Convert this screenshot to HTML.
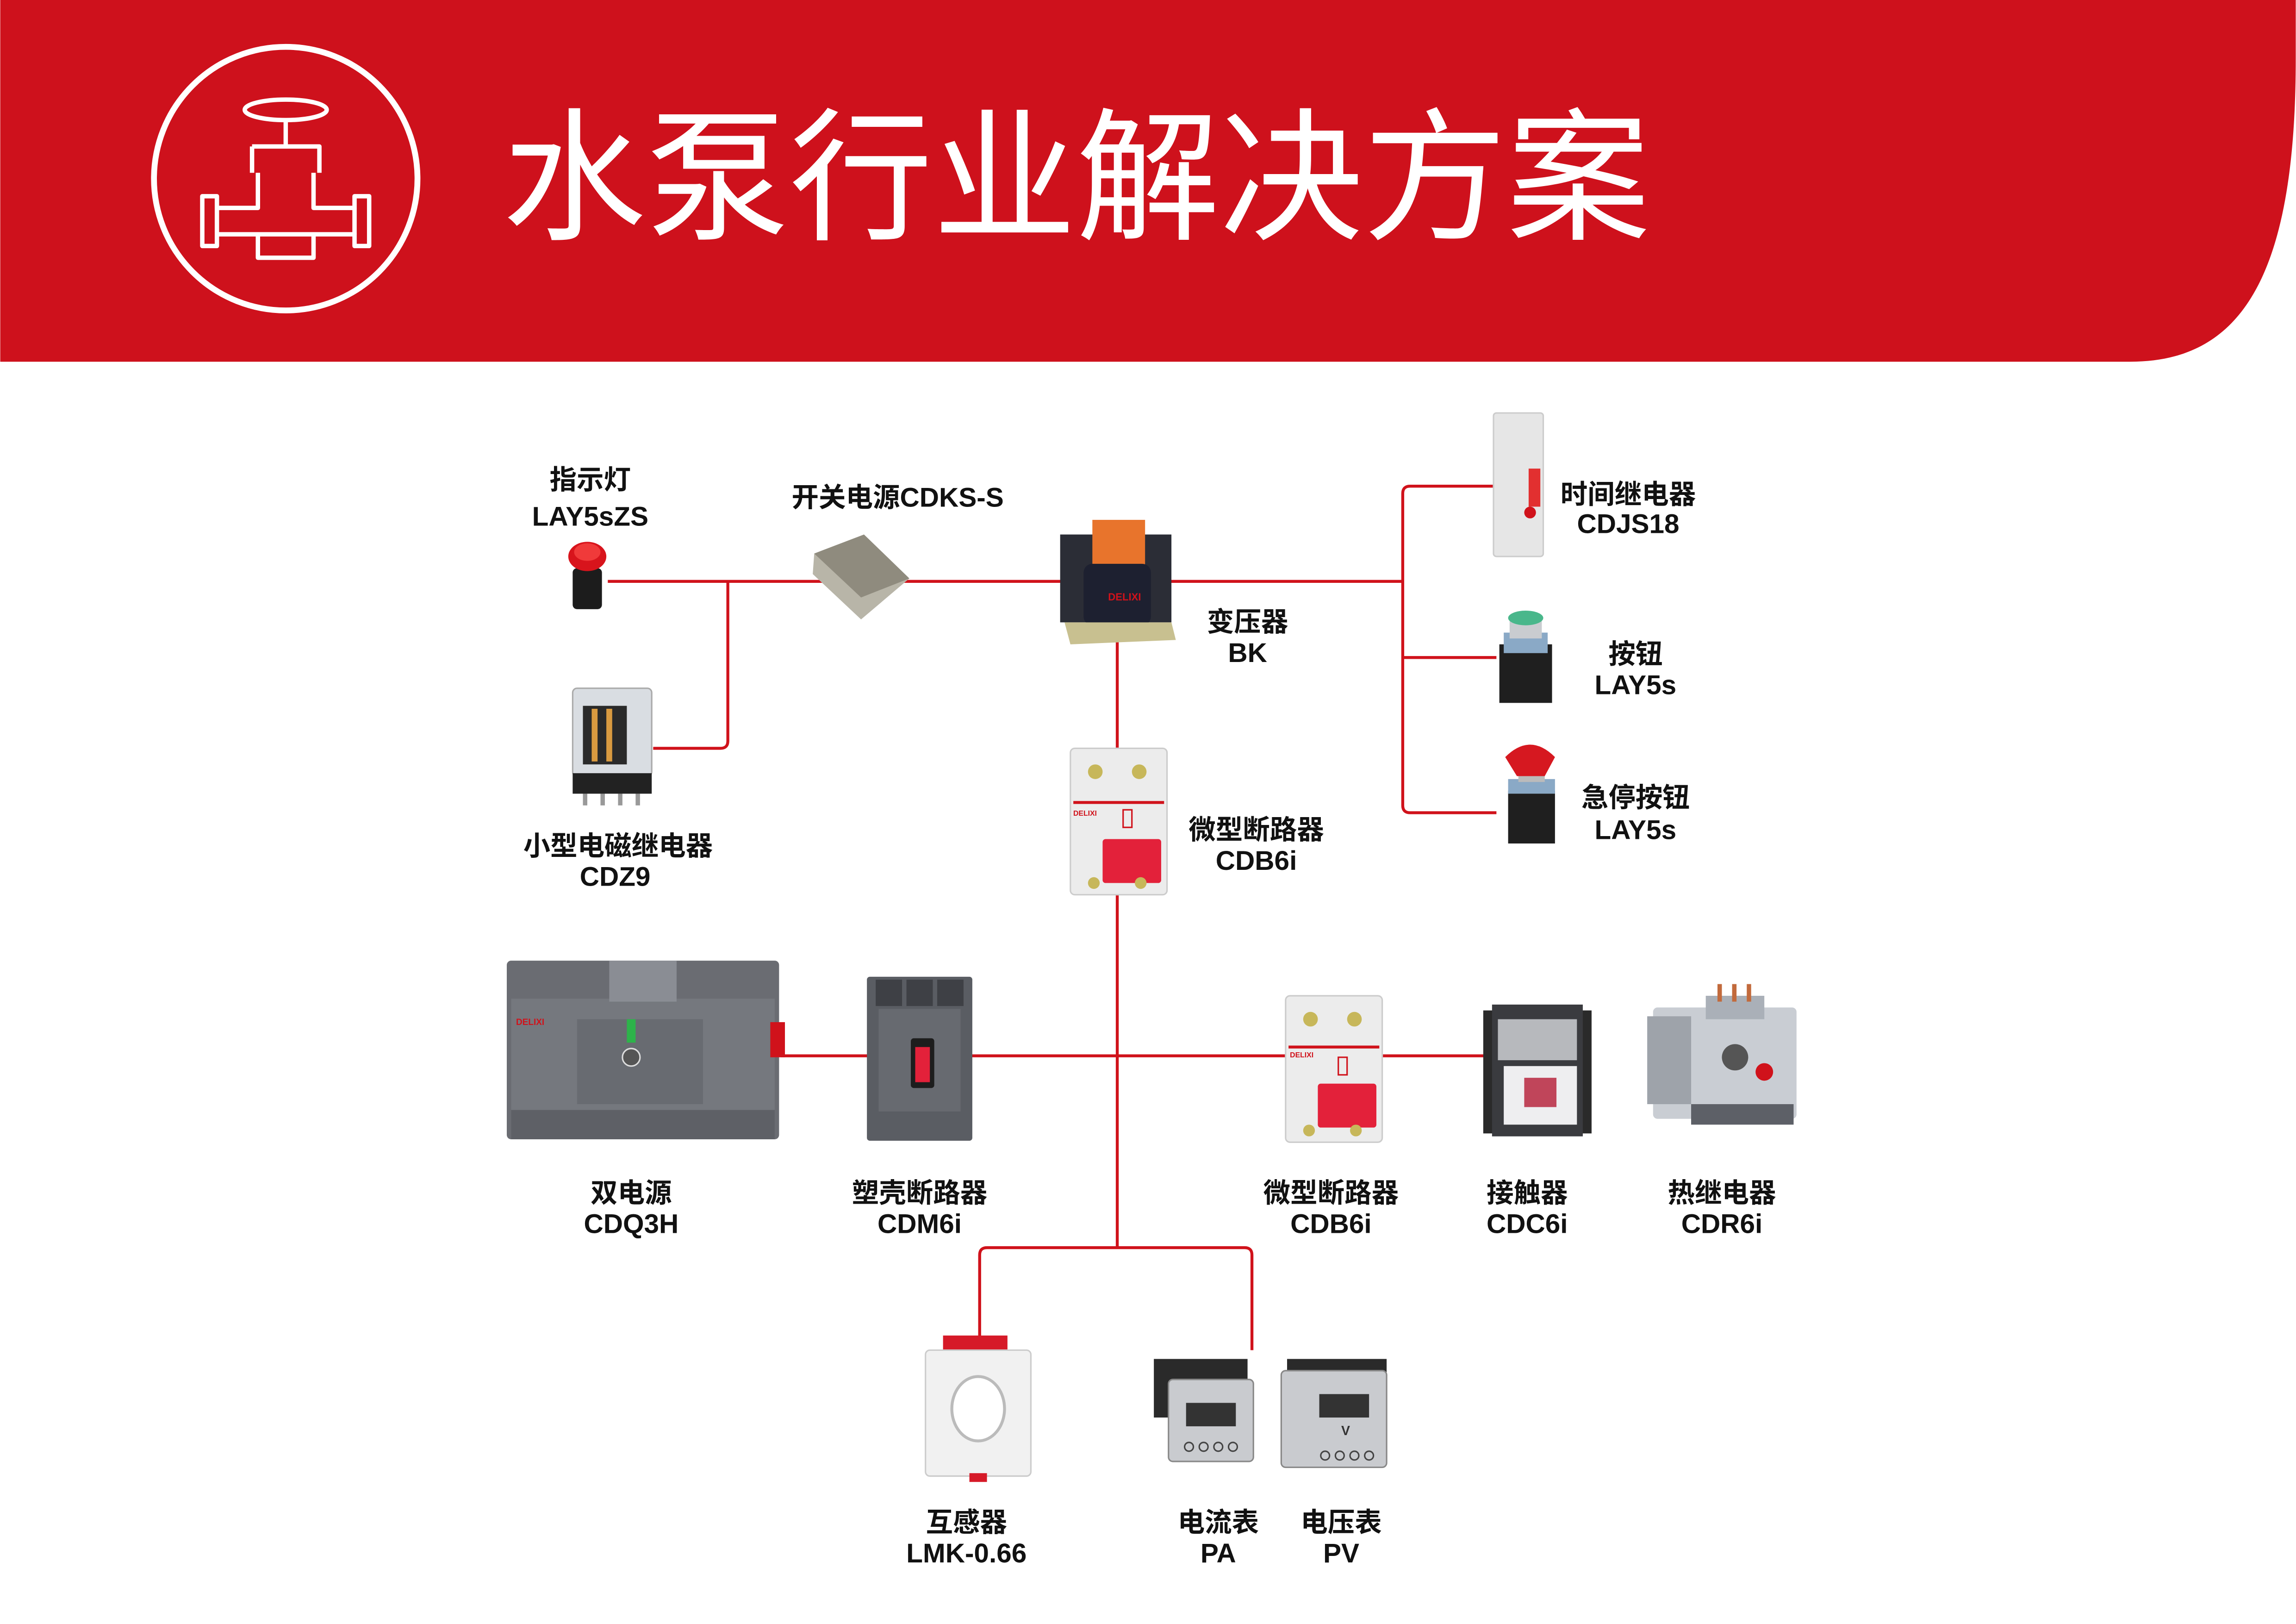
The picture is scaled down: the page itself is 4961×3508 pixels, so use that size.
<!DOCTYPE html>
<html><head><meta charset="utf-8"><style>
html,body{margin:0;padding:0;background:#fff;}
svg{display:block}
text{font-family:"Liberation Sans","Noto Sans CJK SC",sans-serif;font-weight:bold;fill:#111;text-anchor:middle;font-size:18.5px}
</style></head><body>
<svg width="4961" height="3508" viewBox="0 0 1568 1109" xmlns="http://www.w3.org/2000/svg">
<rect width="1568" height="1109" fill="#fff"/>
<!-- header -->
<path d="M0 0 H1568 V40 C1568 190 1530 247 1455 247 H0 Z" fill="#CE111C"/>
<circle cx="195" cy="122" r="90" fill="none" stroke="#fff" stroke-width="4"/>
<g fill="none" stroke="#fff" stroke-width="3" stroke-linejoin="round">
<ellipse cx="195" cy="75" rx="28" ry="7"/>
<line x1="195" y1="82" x2="195" y2="100"/>
<path d="M172 100 H218 V118 M172 100 V118"/>
<path d="M176 118 V142 H148 V134 H138 V168 H148 V160 H176 V176 H214 V160 H242 V168 H252 V134 H242 V142 H214 V118"/>
<path d="M148 142 V160 M242 142 V160 M176 160 H214"/>
</g>
<text x="735" y="156" style="font-size:98px;font-weight:normal;fill:#fff;font-family:'Noto Sans CJK SC',sans-serif">水泵行业解决方案</text>

<!-- connectors -->
<g fill="none" stroke="#D0121B" stroke-width="2">
<line x1="415" y1="397" x2="958" y2="397"/>
<path d="M497 397 V506 Q497 511 492 511 H446"/>
<path d="M1020 332 H963 Q958 332 958 337 V550 Q958 555 963 555 H1022"/>
<line x1="958" y1="449" x2="1022" y2="449"/>
<line x1="763" y1="397" x2="763" y2="852"/>
<line x1="533" y1="721" x2="1018" y2="721"/>
<path d="M669 915 V857 Q669 852 674 852 H850 Q855 852 855 857 V922"/>
</g>

<!-- indicator lamp -->
<rect x="391" y="388" width="20" height="28" rx="3" fill="#1c1c1c"/>
<ellipse cx="401" cy="380" rx="13" ry="10" fill="#d8141c"/>
<ellipse cx="401" cy="377" rx="9" ry="6" fill="#f03a3a"/>
<!-- power supply -->
<polygon points="556,378 590,365 621,395 588,423 555,392" fill="#b8b5a8"/>
<polygon points="556,378 590,365 621,395 588,408" fill="#8f8b7e"/>
<!-- transformer -->
<rect x="724" y="365" width="76" height="60" fill="#2b2d36"/>
<rect x="746" y="355" width="36" height="34" fill="#e8742c"/>
<rect x="740" y="385" width="46" height="42" rx="6" fill="#1d2030"/>
<text x="768" y="410" style="font-size:7px;fill:#d0121b">DELIXI</text>
<polygon points="727,425 800,425 803,437 731,440" fill="#c8c090"/>
<!-- relay CDZ9 -->
<rect x="391" y="470" width="54" height="60" rx="3" fill="#d9dde2" stroke="#aaa" stroke-width="1"/>
<rect x="398" y="482" width="30" height="40" fill="#2a2a2a"/>
<rect x="404" y="484" width="4" height="36" fill="#d99a40"/><rect x="414" y="484" width="4" height="36" fill="#d99a40"/>
<rect x="391" y="528" width="54" height="14" fill="#222"/>
<g fill="#999"><rect x="398" y="542" width="3" height="8"/><rect x="410" y="542" width="3" height="8"/><rect x="422" y="542" width="3" height="8"/><rect x="434" y="542" width="3" height="8"/></g>
<!-- MCB top -->
<g transform="translate(729,511)">
<rect x="2" y="0" width="66" height="100" rx="3" fill="#ececec" stroke="#ccc"/>
<circle cx="19" cy="16" r="5" fill="#c7b75a"/><circle cx="49" cy="16" r="5" fill="#c7b75a"/>
<rect x="4" y="36" width="62" height="2" fill="#d0121b"/>
<text x="12" y="46" style="font-size:5px;fill:#d0121b">DELIXI</text>
<rect x="38" y="42" width="6" height="12" fill="none" stroke="#d0121b"/>
<rect x="24" y="62" width="40" height="30" rx="2" fill="#e3213a"/>
<circle cx="18" cy="92" r="4" fill="#c7b75a"/><circle cx="50" cy="92" r="4" fill="#c7b75a"/>
</g>
<!-- time relay -->
<rect x="1020" y="282" width="34" height="98" rx="2" fill="#e6e6e6" stroke="#ccc"/>
<rect x="1044" y="320" width="8" height="26" fill="#e23030"/>
<circle cx="1045" cy="350" r="4" fill="#d0121b"/>
<!-- green button -->
<rect x="1024" y="440" width="36" height="40" fill="#1f1f1f"/>
<rect x="1027" y="432" width="30" height="14" fill="#8aa9c6"/>
<rect x="1031" y="420" width="22" height="16" fill="#c9ccd0"/>
<ellipse cx="1042" cy="422" rx="12" ry="5" fill="#49b78b"/>
<!-- estop -->
<rect x="1030" y="540" width="32" height="36" fill="#1f1f1f"/>
<rect x="1030" y="532" width="32" height="10" fill="#8aa9c6"/>
<rect x="1037" y="512" width="18" height="22" fill="#bbb"/>
<path d="M1028 517 Q1045 500 1062 517 L1055 530 H1036 Z" fill="#d61820"/>
<!-- dual power -->
<g transform="translate(346,656)">
<rect x="0" y="0" width="186" height="122" rx="3" fill="#6a6c72"/>
<rect x="3" y="26" width="180" height="76" fill="#75787e"/>
<rect x="70" y="0" width="46" height="28" fill="#8a8d94"/>
<rect x="48" y="40" width="86" height="58" fill="#686b71"/>
<rect x="82" y="40" width="6" height="16" fill="#2db34a"/>
<circle cx="85" cy="66" r="6" fill="#555" stroke="#ddd"/>
<rect x="180" y="42" width="10" height="24" fill="#d0121b"/>
<text x="16" y="44" style="font-size:6px;fill:#d0121b">DELIXI</text>
<rect x="3" y="102" width="180" height="20" fill="#5e6066"/>
</g>
<!-- MCCB -->
<g transform="translate(592,667)">
<rect x="0" y="0" width="72" height="112" rx="2" fill="#5a5d63"/>
<rect x="8" y="22" width="56" height="70" fill="#676a70"/>
<rect x="30" y="42" width="16" height="34" rx="2" fill="#1d1d1d"/>
<rect x="33" y="48" width="10" height="24" fill="#e3213a"/>
<g fill="#3e4045"><rect x="6" y="2" width="18" height="18"/><rect x="27" y="2" width="18" height="18"/><rect x="48" y="2" width="18" height="18"/></g>
</g>
<!-- MCB2 -->
<g transform="translate(876,680)">
<rect x="2" y="0" width="66" height="100" rx="3" fill="#ececec" stroke="#ccc"/>
<circle cx="19" cy="16" r="5" fill="#c7b75a"/><circle cx="49" cy="16" r="5" fill="#c7b75a"/>
<rect x="4" y="34" width="62" height="2" fill="#d0121b"/>
<text x="13" y="42" style="font-size:5px;fill:#d0121b">DELIXI</text>
<rect x="38" y="42" width="6" height="12" fill="none" stroke="#d0121b"/>
<rect x="24" y="60" width="40" height="30" rx="2" fill="#e3213a"/>
<circle cx="18" cy="92" r="4" fill="#c7b75a"/><circle cx="50" cy="92" r="4" fill="#c7b75a"/>
</g>
<!-- contactor -->
<g transform="translate(1013,686)">
<rect x="0" y="4" width="74" height="84" fill="#2a2a2a"/>
<rect x="6" y="0" width="62" height="90" fill="#3a3b3f"/>
<rect x="10" y="10" width="54" height="28" fill="#b7b9bd"/>
<rect x="14" y="42" width="50" height="40" fill="#eeeef0"/>
<rect x="28" y="50" width="22" height="20" fill="#c0455a"/>
</g>
<!-- thermal relay -->
<g transform="translate(1125,672)">
<rect x="4" y="16" width="98" height="76" rx="3" fill="#c9cdd3"/>
<rect x="0" y="22" width="30" height="60" fill="#9ea3aa"/>
<rect x="40" y="8" width="40" height="16" fill="#aab0b8"/>
<g fill="#c26a3c"><rect x="48" y="0" width="3" height="12"/><rect x="58" y="0" width="3" height="12"/><rect x="68" y="0" width="3" height="12"/></g>
<circle cx="60" cy="50" r="9" fill="#555"/>
<circle cx="80" cy="60" r="6" fill="#d0121b"/>
<rect x="30" y="82" width="70" height="14" fill="#5d6067"/>
</g>
<!-- CT -->
<g transform="translate(630,912)">
<rect x="14" y="0" width="44" height="12" fill="#d61a28"/>
<rect x="2" y="10" width="72" height="86" rx="3" fill="#f1f1f1" stroke="#ccc"/>
<ellipse cx="38" cy="50" rx="18" ry="22" fill="#fff" stroke="#bbb" stroke-width="2"/>
<rect x="32" y="94" width="12" height="6" fill="#d61a28"/>
</g>
<!-- ammeter -->
<g transform="translate(788,928)">
<rect x="0" y="0" width="64" height="40" fill="#2a2a2a"/>
<rect x="10" y="14" width="58" height="56" rx="3" fill="#c9cbcf" stroke="#888"/>
<rect x="22" y="30" width="34" height="16" fill="#333"/>
<g fill="none" stroke="#444"><circle cx="24" cy="60" r="3"/><circle cx="34" cy="60" r="3"/><circle cx="44" cy="60" r="3"/><circle cx="54" cy="60" r="3"/></g>
</g>
<!-- voltmeter -->
<g transform="translate(875,928)">
<rect x="4" y="0" width="68" height="20" fill="#2a2a2a"/>
<rect x="0" y="8" width="72" height="66" rx="3" fill="#c9cbcf" stroke="#888"/>
<rect x="26" y="24" width="34" height="16" fill="#333"/>
<text x="44" y="52" style="font-size:9px;fill:#333">V</text>
<g fill="none" stroke="#444"><circle cx="30" cy="66" r="3"/><circle cx="40" cy="66" r="3"/><circle cx="50" cy="66" r="3"/><circle cx="60" cy="66" r="3"/></g>
</g>

<!-- labels -->
<text x="403" y="334">指示灯</text><text x="403" y="359">LAY5sZS</text>
<text x="613" y="346">开关电源CDKS-S</text>
<text x="852" y="431">变压器</text><text x="852" y="452">BK</text>
<text x="1112" y="344">时间继电器</text><text x="1112" y="364">CDJS18</text>
<text x="1117" y="453">按钮</text><text x="1117" y="474">LAY5s</text>
<text x="1117" y="551">急停按钮</text><text x="1117" y="573">LAY5s</text>
<text x="858" y="573">微型断路器</text><text x="858" y="594">CDB6i</text>
<text x="422" y="584">小型电磁继电器</text><text x="420" y="605">CDZ9</text>
<text x="431" y="821">双电源</text><text x="431" y="842">CDQ3H</text>
<text x="628" y="821">塑壳断路器</text><text x="628" y="842">CDM6i</text>
<text x="909" y="821">微型断路器</text><text x="909" y="842">CDB6i</text>
<text x="1043" y="821">接触器</text><text x="1043" y="842">CDC6i</text>
<text x="1176" y="821">热继电器</text><text x="1176" y="842">CDR6i</text>
<text x="660" y="1046">互感器</text><text x="660" y="1067">LMK-0.66</text>
<text x="832" y="1046">电流表</text><text x="832" y="1067">PA</text>
<text x="916" y="1046">电压表</text><text x="916" y="1067">PV</text>
</svg>
</body></html>
